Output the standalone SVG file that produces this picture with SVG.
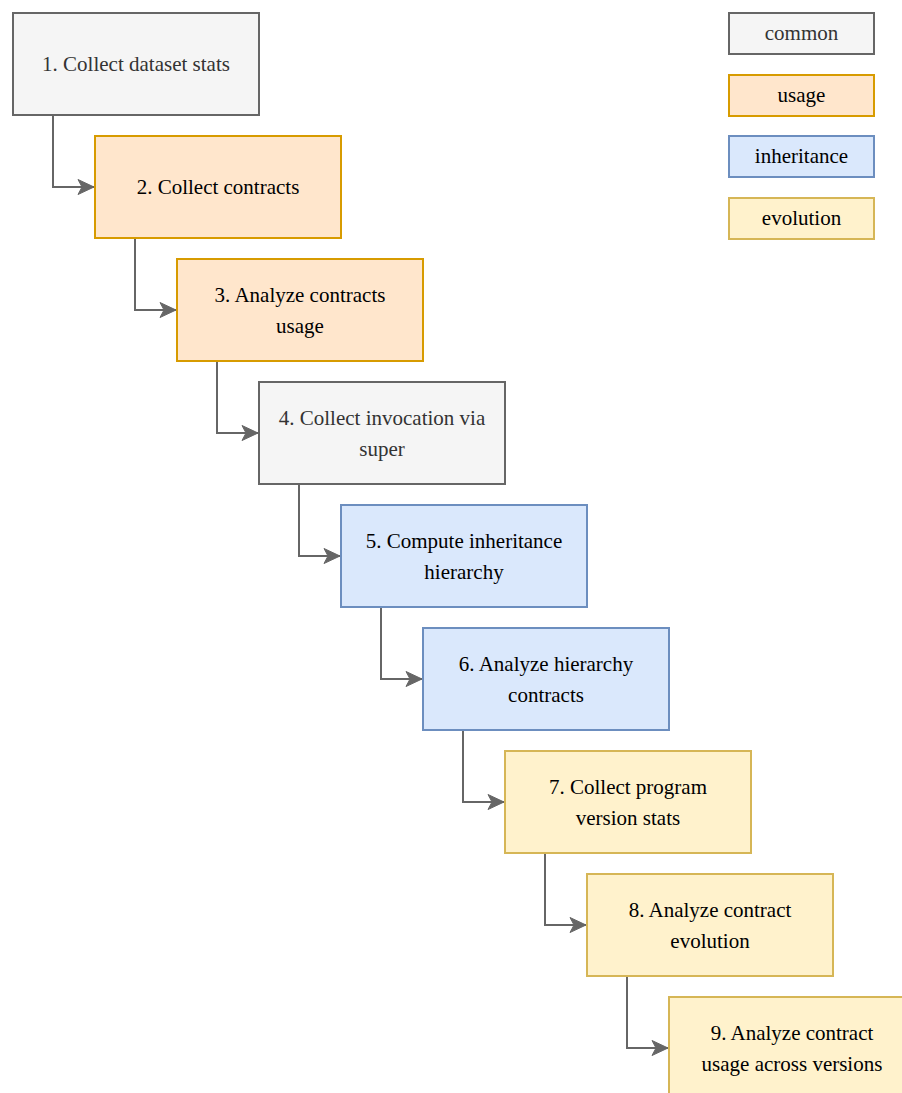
<svg xmlns="http://www.w3.org/2000/svg" width="902" height="1093" viewBox="0 0 902 1093">
<style>
rect{stroke-width:2}
.common{fill:#f5f5f5;stroke:#666666}
.usage{fill:#ffe6cc;stroke:#d79b00}
.inh{fill:#dae8fc;stroke:#6c8ebf}
.evo{fill:#fff2cc;stroke:#d6b656}
text{font-family:'Times New Roman','Liberation Serif',Tinos,'DejaVu Serif',serif;font-size:21px;text-anchor:middle;fill:#000000}
.ct{fill:#333333}
.edge{fill:none;stroke:#666666;stroke-width:2}
</style>
<defs>
<marker id="arr" markerUnits="userSpaceOnUse" markerWidth="18" markerHeight="18" refX="17" refY="9" orient="auto" viewBox="0 0 18 18">
<path d="M1,1.5 L17,9 L1,16.5 L5,9 Z" fill="#666666" stroke="#666666" stroke-width="1"/>
</marker>
</defs>
<rect width="902" height="1093" fill="#ffffff" stroke="none"/>
<g id="connectors">
<path class="edge" marker-end="url(#arr)" d="M53,115 V187 H94"/>
<path class="edge" marker-end="url(#arr)" d="M135,238 V310 H176"/>
<path class="edge" marker-end="url(#arr)" d="M217,361 V433 H258"/>
<path class="edge" marker-end="url(#arr)" d="M299,484 V556 H340"/>
<path class="edge" marker-end="url(#arr)" d="M381,607 V679 H422"/>
<path class="edge" marker-end="url(#arr)" d="M463,730 V802 H504"/>
<path class="edge" marker-end="url(#arr)" d="M545,853 V925 H586"/>
<path class="edge" marker-end="url(#arr)" d="M627,976 V1048 H668"/>
</g>
<g>
<g id="n1"><rect class="common" x="13" y="13" width="246" height="102"/><text class="ct" x="136" y="71">1. Collect dataset stats</text></g>
<g id="n2"><rect class="usage" x="95" y="136" width="246" height="102"/><text x="218" y="194">2. Collect contracts</text></g>
<g id="n3"><rect class="usage" x="177" y="259" width="246" height="102"/><text x="300" y="302">3. Analyze contracts</text><text x="300" y="333">usage</text></g>
<g id="n4"><rect class="common" x="259" y="382" width="246" height="102"/><text class="ct" x="382" y="425">4. Collect invocation via</text><text class="ct" x="382" y="456">super</text></g>
<g id="n5"><rect class="inh" x="341" y="505" width="246" height="102"/><text x="464" y="548">5. Compute inheritance</text><text x="464" y="579">hierarchy</text></g>
<g id="n6"><rect class="inh" x="423" y="628" width="246" height="102"/><text x="546" y="671">6. Analyze hierarchy</text><text x="546" y="702">contracts</text></g>
<g id="n7"><rect class="evo" x="505" y="751" width="246" height="102"/><text x="628" y="794">7. Collect program</text><text x="628" y="825">version stats</text></g>
<g id="n8"><rect class="evo" x="587" y="874" width="246" height="102"/><text x="710" y="917">8. Analyze contract</text><text x="710" y="948">evolution</text></g>
<g id="n9"><rect class="evo" x="669" y="997" width="246" height="102"/><text x="792" y="1040">9. Analyze contract</text><text x="792" y="1071">usage across versions</text></g>
<g id="legend-common"><rect class="common" x="729" y="13" width="145" height="41"/><text class="ct" x="801.5" y="40">common</text></g>
<g id="legend-usage"><rect class="usage" x="729" y="75" width="145" height="41"/><text x="801.5" y="102">usage</text></g>
<g id="legend-inheritance"><rect class="inh" x="729" y="136" width="145" height="41"/><text x="801.5" y="163">inheritance</text></g>
<g id="legend-evolution"><rect class="evo" x="729" y="198" width="145" height="41"/><text x="801.5" y="225">evolution</text></g>
</g>
</svg>
